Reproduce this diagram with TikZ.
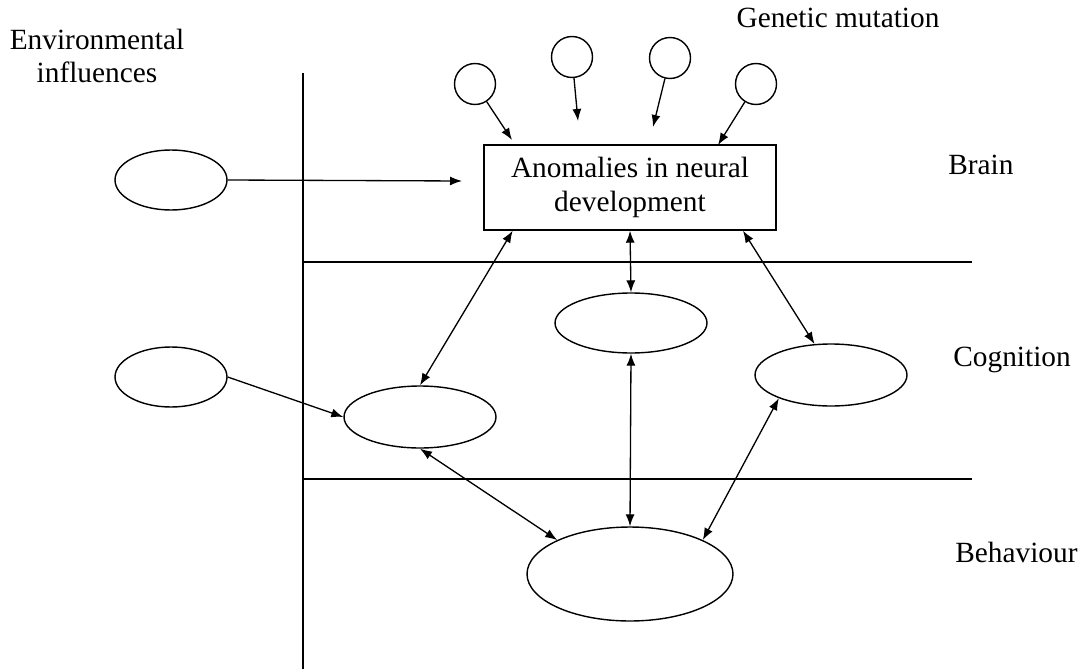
\documentclass[tikz,border=0pt]{standalone}
\usepackage{fontspec}
\setmainfont{Liberation Serif}
\usetikzlibrary{arrows.meta,shapes.geometric,calc}

\begin{document}
\begin{tikzpicture}[x=0.02cm, y=-0.02cm,
  blob/.style={ellipse, draw, line width=0.8pt, inner sep=0pt},
  gene/.style={circle, draw, line width=0.8pt, inner sep=0pt, minimum size=0.82cm},
  anomaly/.style={rectangle, draw, line width=0.8pt, minimum width=5.84cm,
    minimum height=1.7cm, align=center, inner sep=0pt,
    font=\fontsize{16.7}{19}\selectfont},
  lbl/.style={inner sep=0pt, align=center, font=\fontsize{16.7}{19}\selectfont},
  arrow/.style={-{Latex[length=2.4mm,width=1.8mm]}, line width=0.75pt},
  dblarrow/.style={{Latex[length=2.4mm,width=1.8mm]}-{Latex[length=2.4mm,width=1.8mm]},
    line width=0.75pt},
  level/.style={line width=0.8pt}
]
\useasboundingbox (0,0) rectangle (1084,669);

% levels
\draw[level] (303,73) -- (303,669);
\draw[level] (303,262) -- (972,262);
\draw[level] (303,479) -- (972,479);

% labels
\node[lbl] (env) at (97,56) {Environmental\\influences};
\node[lbl] (gen) at (838,18) {Genetic mutation};
\node[lbl, anchor=west] (brain) at (948,165) {Brain};
\node[lbl, anchor=west] (cog) at (953,360) {Cognition};
\node[lbl, anchor=west] (beh) at (955,552) {Behaviour};

% brain level
\node[anomaly] (anom) at (630,187.5) {Anomalies in neural\\development};
\node[gene] (g1) at (475,84) {};
\node[gene] (g2) at (572,57) {};
\node[gene] (g3) at (670,58) {};
\node[gene] (g4) at (756,84) {};
\coordinate (t1) at (512,140);
\coordinate (t2) at (578,121);
\coordinate (t3) at (653,127);
\coordinate (t4) at (718,145);

% environment
\node[blob, minimum width=2.24cm, minimum height=1.2cm] (env1) at (171,180) {};
\node[blob, minimum width=2.24cm, minimum height=1.2cm] (env2) at (171,377) {};
\coordinate (t0) at (462,181);

% cognition and behaviour
\node[blob, minimum width=3.04cm, minimum height=1.2cm] (cogm) at (631,323) {};
\node[blob, minimum width=3.04cm, minimum height=1.24cm] (cogl) at (420,417) {};
\node[blob, minimum width=3.04cm, minimum height=1.24cm] (cogr) at (831,375) {};
\node[blob, minimum width=4.12cm, minimum height=1.88cm] (behv) at (630,574) {};

\draw[arrow] (g1) -- (t1);
\draw[arrow] (g2) -- (t2);
\draw[arrow] (g3) -- (t3);
\draw[arrow] (g4) -- (t4);
\draw[arrow] (env1.east) -- (t0);
\draw[arrow] (env2.east) -- (cogl.west);

\draw[dblarrow] ($(anom.south west)!0.1!(anom.south east)$) -- (cogl.north);
\draw[dblarrow] (anom.south) -- (cogm.north);
\draw[dblarrow] ($(anom.south west)!0.885!(anom.south east)$) -- (cogr.118);
\draw[dblarrow] (cogm.south) -- (behv.north);
\draw[dblarrow] (cogl.south) -- (behv.155);
\draw[dblarrow] (cogr.204) -- (behv.25);
\end{tikzpicture}
\end{document}
